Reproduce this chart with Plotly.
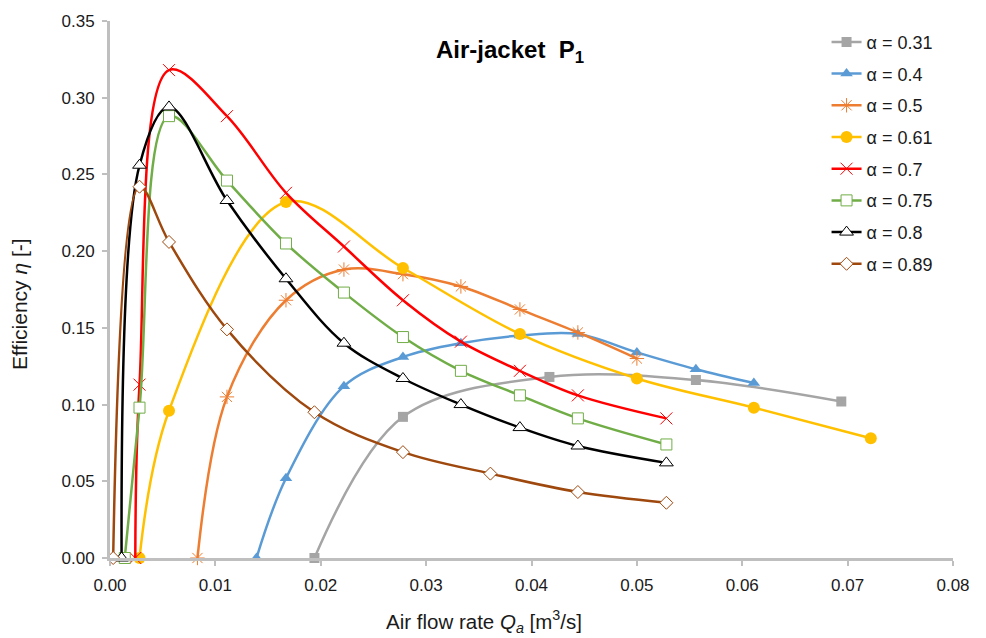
import plotly.graph_objects as go

# Air-jacket P1: efficiency vs. air flow rate for several alpha values
alpha_labels = ["α = 0.31", "α = 0.4", "α = 0.5", "α = 0.61",
                "α = 0.7", "α = 0.75", "α = 0.8", "α = 0.89"]

q_031 = [0.0194, 0.0278, 0.0417, 0.0556, 0.0694]
eta_031 = [0.0, 0.092, 0.118, 0.116, 0.102]

q_040 = [0.0139, 0.0167, 0.0222, 0.0278, 0.0333, 0.0389, 0.0444, 0.0500, 0.0556, 0.0611]
eta_040 = [0.0, 0.052, 0.112, 0.131, 0.140, 0.145, 0.146, 0.134, 0.123, 0.114]

q_050 = [0.0083, 0.0111, 0.0167, 0.0222, 0.0278, 0.0333, 0.0389, 0.0444, 0.0500]
eta_050 = [0.0, 0.105, 0.168, 0.188, 0.185, 0.177, 0.162, 0.147, 0.130]

q_061 = [0.0028, 0.0056, 0.0167, 0.0278, 0.0389, 0.0500, 0.0611, 0.0722]
eta_061 = [0.0, 0.096, 0.232, 0.189, 0.146, 0.117, 0.098, 0.078]

q_070 = [0.0024, 0.0028, 0.0056, 0.0111, 0.0167, 0.0222, 0.0278, 0.0333, 0.0389, 0.0444, 0.0528]
eta_070 = [0.0, 0.113, 0.318, 0.288, 0.238, 0.203, 0.168, 0.141, 0.122, 0.106, 0.091]

q_075 = [0.0014, 0.0028, 0.0056, 0.0111, 0.0167, 0.0222, 0.0278, 0.0333, 0.0389, 0.0444, 0.0528]
eta_075 = [0.0, 0.098, 0.288, 0.246, 0.205, 0.173, 0.144, 0.122, 0.106, 0.091, 0.074]

q_080 = [0.0011, 0.0028, 0.0056, 0.0111, 0.0167, 0.0222, 0.0278, 0.0333, 0.0389, 0.0444, 0.0528]
eta_080 = [0.0, 0.256, 0.294, 0.233, 0.182, 0.140, 0.117, 0.100, 0.085, 0.073, 0.062]

q_089 = [0.0003, 0.0028, 0.0056, 0.0111, 0.0194, 0.0278, 0.0361, 0.0444, 0.0528]
eta_089 = [0.0, 0.242, 0.206, 0.149, 0.095, 0.069, 0.055, 0.043, 0.036]

x_ticks = [0.0, 0.01, 0.02, 0.03, 0.04, 0.05, 0.06, 0.07, 0.08]
y_ticks = [0.0, 0.05, 0.10, 0.15, 0.20, 0.25, 0.30, 0.35]

series = [
    (q_031, eta_031, "#A5A5A5", dict(symbol="square", size=10, color="#A5A5A5")),
    (q_040, eta_040, "#5B9BD5", dict(symbol="triangle-up", size=11, color="#5B9BD5")),
    (q_050, eta_050, "#ED7D31", dict(symbol="asterisk-open", size=12,
                                     line=dict(color="#ED7D31", width=1))),
    (q_061, eta_061, "#FFC000", dict(symbol="circle", size=12, color="#FFC000")),
    (q_070, eta_070, "#FF0000", dict(symbol="x-thin-open", size=12,
                                     line=dict(color="#FF0000", width=1))),
    (q_075, eta_075, "#70AD47", dict(symbol="square", size=11, color="white",
                                     line=dict(color="#70AD47", width=1))),
    (q_080, eta_080, "#000000", dict(symbol="triangle-up", size=12, color="white",
                                     line=dict(color="#000000", width=1))),
    (q_089, eta_089, "#9E480E", dict(symbol="diamond", size=10, color="white",
                                     line=dict(color="#9E480E", width=1))),
]

font_family = "Liberation Sans, Arial, sans-serif"
text_color = "#1a1a1a"

fig = go.Figure()
for i, (xs, ys, col, mk) in enumerate(series):
    fig.add_trace(go.Scatter(
        x=xs, y=ys, name=alpha_labels[i], mode="lines+markers",
        line=dict(color=col, width=2.5, shape="spline", smoothing=1.0),
        marker=mk, legendgroup=f"g{i}", cliponaxis=False,
    ))

axis_common = dict(
    showgrid=False, zeroline=False, showline=True,
    linecolor="#BFBFBF", linewidth=3,
    ticks="outside", tickcolor="#BFBFBF", ticklen=5, tickwidth=1.5,
    tickfont=dict(family=font_family, size=17, color=text_color),
    tickformat=".2f",
)

fig.update_layout(
    width=986, height=638,
    margin=dict(l=110, r=33, t=17, b=80),
    paper_bgcolor="white", plot_bgcolor="white",
    font=dict(family=font_family, color=text_color),
    xaxis=dict(range=[0, 0.08], tickvals=x_ticks, ticklabelstandoff=5, **axis_common),
    yaxis=dict(range=[0, 0.35], tickvals=y_ticks, ticklabelstandoff=4, **axis_common),
    legend=dict(x=0.85, y=0.995, xanchor="left", yanchor="top",
                font=dict(family=font_family, size=18, color=text_color),
                tracegroupgap=5.3, bgcolor="rgba(0,0,0,0)"),
    annotations=[
        dict(text="<b>Air-jacket  P<sub>1</sub></b>", x=510, y=48,
             font=dict(family=font_family, size=24, color="#000000")),
        dict(text="Air flow rate <i>Q<sub>a</sub></i> [m<sup>3</sup>/s]",
             x=484, y=622,
             font=dict(family=font_family, size=20.5, color=text_color)),
        dict(text="Efficiency <i>η</i> [-]", textangle=-90, x=20, y=302,
             font=dict(family=font_family, size=21, color=text_color)),
    ],
)

# annotation positions above are given in pixels; convert to paper fractions
plot_l, plot_r, plot_t, plot_b = 110, 986 - 33, 17, 638 - 80
for ann in fig.layout.annotations:
    ann.x = (ann.x - plot_l) / (plot_r - plot_l)
    ann.y = (plot_b - ann.y) / (plot_b - plot_t)
    ann.xref = "paper"
    ann.yref = "paper"
    ann.xanchor = "center"
    ann.yanchor = "middle"
    ann.showarrow = False

fig.write_html("out.html")
